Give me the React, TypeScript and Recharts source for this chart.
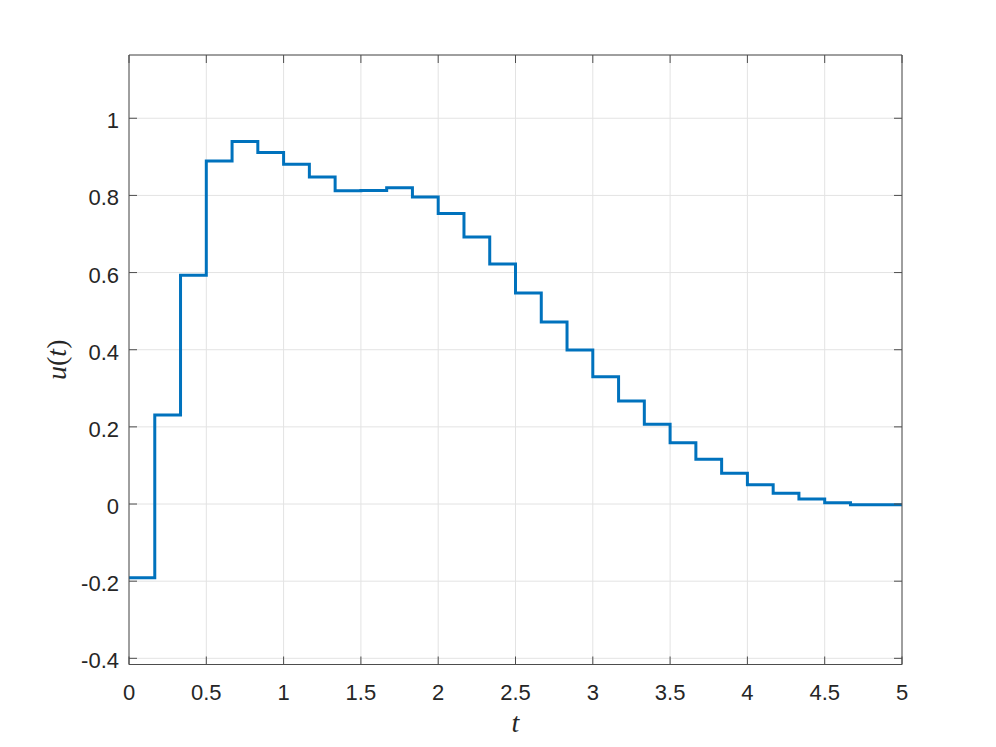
import React from 'react';
import { LineChart, Line, XAxis, YAxis, CartesianGrid, Label } from 'recharts';

const times: number[] = [
  0, 0.1667, 0.3333, 0.5, 0.6667, 0.8333, 1, 1.1667, 1.3333, 1.5, 1.6667,
  1.8333, 2, 2.1667, 2.3333, 2.5, 2.6667, 2.8333, 3, 3.1667, 3.3333, 3.5,
  3.6667, 3.8333, 4, 4.1667, 4.3333, 4.5, 4.6667, 4.8333, 5,
];
const uValues: number[] = [
  -0.191, 0.231, 0.593, 0.889, 0.94, 0.911, 0.881, 0.848, 0.812, 0.813, 0.82,
  0.796, 0.753, 0.692, 0.622, 0.547, 0.472, 0.399, 0.33, 0.267, 0.207, 0.159,
  0.116, 0.08, 0.05, 0.028, 0.013, 0.003, -0.002, -0.002, -0.002,
];
const xTicks: number[] = [0, 0.5, 1, 1.5, 2, 2.5, 3, 3.5, 4, 4.5, 5];
const yTicks: number[] = [-0.4, -0.2, 0, 0.2, 0.4, 0.6, 0.8, 1];
const xDomain: [number, number] = [0, 5];
const yDomain: [number, number] = [-0.416, 1.164];

const data = times.map((t, i) => ({ t, u: uValues[i] }));

const AXIS = '#4d4d4d';
const TEXT = '#262626';
const TICK_LEN = 8;
const FONT = 'Liberation Sans, Arial, Helvetica, sans-serif';

const fmt = (v: number) => String(Math.round(v * 10) / 10);

const BottomTick = (props: any) => {
  const { x, y, payload } = props;
  return (
    <g>
      <line x1={x} y1={y} x2={x} y2={y - TICK_LEN} stroke={AXIS} strokeWidth={1} />
      <text x={x} y={y + 35} textAnchor="middle" fontFamily={FONT} fontSize={22} fill={TEXT}>
        {fmt(payload.value)}
      </text>
    </g>
  );
};

const LeftTick = (props: any) => {
  const { x, y, payload } = props;
  return (
    <g>
      <line x1={x} y1={y} x2={x + TICK_LEN} y2={y} stroke={AXIS} strokeWidth={1} />
      <text x={x - 10} y={y + 10} textAnchor="end" fontFamily={FONT} fontSize={22} fill={TEXT}>
        {fmt(payload.value)}
      </text>
    </g>
  );
};

const TopTick = (props: any) => {
  const { x, y } = props;
  return <line x1={x} y1={y} x2={x} y2={y + TICK_LEN} stroke={AXIS} strokeWidth={1} />;
};

const RightTick = (props: any) => {
  const { x, y } = props;
  return <line x1={x} y1={y} x2={x - TICK_LEN} y2={y} stroke={AXIS} strokeWidth={1} />;
};

const YLabel = (props: any) => {
  const vb = props.viewBox || { x: 0, y: 0, width: 0, height: 0 };
  const cy = vb.y + vb.height / 2;
  const cx = 66;
  return (
    <text
      x={cx}
      y={cy}
      transform={`rotate(-90, ${cx}, ${cy})`}
      textAnchor="middle"
      fontFamily="Liberation Serif, serif"
      fontSize={28}
      fill={TEXT}
    >
      <tspan fontStyle="italic">u</tspan>
      <tspan>(</tspan>
      <tspan fontStyle="italic">t</tspan>
      <tspan>)</tspan>
    </text>
  );
};

const XLabel = (props: any) => {
  const vb = props.viewBox || { x: 0, y: 0, width: 0, height: 0 };
  const cx = vb.x + vb.width / 2;
  return (
    <text
      x={cx}
      y={732}
      textAnchor="middle"
      fontFamily="Liberation Serif, serif"
      fontSize={28}
      fontStyle="italic"
      fill={TEXT}
    >
      t
    </text>
  );
};

export default function App() {
  return (
    <div style={{ position: 'absolute', left: 0, top: 0, width: 996, height: 747, background: '#fff' }}>
      <LineChart
        width={996}
        height={747}
        data={data}
        margin={{ top: 54, right: 93, left: 0, bottom: 0 }}
      >
        <CartesianGrid stroke="#e3e3e3" strokeWidth={1} />
        <XAxis
          dataKey="t"
          type="number"
          domain={xDomain}
          ticks={xTicks}
          allowDataOverflow
          height={82.5}
          stroke={AXIS}
          tickLine={false}
          tickSize={0}
          tickMargin={0}
          tick={BottomTick}
          interval={0}
        >
          <Label content={XLabel} />
        </XAxis>
        <XAxis
          xAxisId="top"
          dataKey="t"
          orientation="top"
          type="number"
          domain={xDomain}
          ticks={xTicks}
          allowDataOverflow
          height={1}
          stroke={AXIS}
          tickLine={false}
          tickSize={0}
          tickMargin={0}
          tick={TopTick}
          interval={0}
        />
        <YAxis
          type="number"
          domain={yDomain}
          ticks={yTicks}
          allowDataOverflow
          width={129}
          stroke={AXIS}
          tickLine={false}
          tickSize={0}
          tickMargin={0}
          tick={LeftTick}
          interval={0}
        >
          <Label content={YLabel} />
        </YAxis>
        <YAxis
          yAxisId="right"
          orientation="right"
          type="number"
          domain={yDomain}
          ticks={yTicks}
          allowDataOverflow
          width={1}
          stroke={AXIS}
          tickLine={false}
          tickSize={0}
          tickMargin={0}
          tick={RightTick}
          interval={0}
        />
        <Line
          xAxisId="top"
          yAxisId="right"
          type="stepAfter"
          dataKey="u"
          stroke="none"
          strokeWidth={0}
          dot={false}
          activeDot={false}
          legendType="none"
          isAnimationActive={false}
        />
        <Line
          type="stepAfter"
          dataKey="u"
          stroke="#0072BD"
          strokeWidth={3}
          dot={false}
          activeDot={false}
          isAnimationActive={false}
        />
      </LineChart>
    </div>
  );
}
